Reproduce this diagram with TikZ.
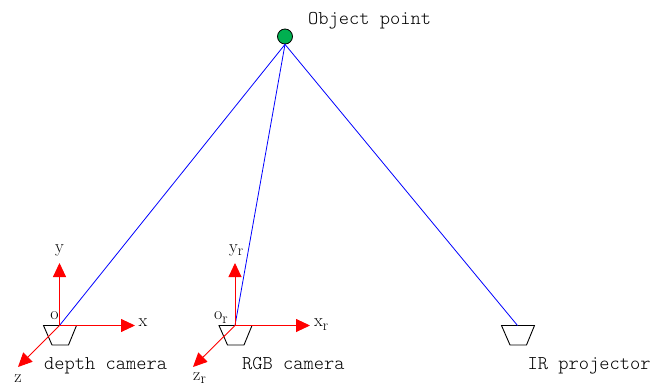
\documentclass[tikz,border=0pt]{standalone}
\usetikzlibrary{arrows.meta}
\newcommand{\rsubs}{\raisebox{-3.5pt}{\fontsize{15}{15}\selectfont r}}
\tikzset{
  px/.style={x=1pt,y=-1pt},
  ray/.style={blue,line width=0.8pt},
  axis/.style={red,line width=0.9pt,-{Triangle[length=14pt,width=13pt]}},
  cam/.style={black,line width=0.9pt},
  tag/.style={inner sep=0pt,font=\fontsize{19.5}{21}\selectfont\ttfamily\fontseries{l}\selectfont,anchor=base west},
  sym/.style={inner sep=0pt,font=\fontsize{18}{18}\selectfont,anchor=base},
  pics/camera/.style={code={\draw[cam] (-16,0) -- (17,0) -- (9,19.5) -- (-7.5,19.5) -- cycle;}}
}
\definecolor{objgreen}{RGB}{0,176,80}
\begin{document}
\begin{tikzpicture}[px]
\useasboundingbox (0,0) rectangle (651,385);
\coordinate (d) at (59.5,325.5);
\coordinate (r) at (235,325.5);
\coordinate (p) at (517.5,325.5);
\coordinate (dx) at (135,325.5);
\coordinate (dy) at (59.5,263);
\coordinate (dz) at (18,367);
\coordinate (rx) at (310,325.5);
\coordinate (ry) at (235,263);
\coordinate (rz) at (193,367);
\pic at (d) {camera};
\pic at (r) {camera};
\pic at (p) {camera};
\node[circle,draw=black,fill=objgreen,line width=0.8pt,minimum size=15pt,inner sep=0pt] (obj) at (285,36.5) {};
\draw[ray] (obj.south) -- (d);
\draw[ray] (obj.south) -- (r);
\draw[ray] (obj.south) -- (p);
\draw[axis] (d) -- (dx);
\draw[axis] (d) -- (dy);
\draw[axis] (d) -- (dz);
\draw[axis] (r) -- (rx);
\draw[axis] (r) -- (ry);
\draw[axis] (r) -- (rz);
\node[tag] (t0) at (308,25) {Object point};
\node[tag] (t1) at (44,369) {depth camera};
\node[tag] (t2) at (242,369) {RGB camera};
\node[tag] (t3) at (527.5,369) {IR projector};
\node[sym] (lx) at (143,326) {x};
\node[sym] (ly) at (59.5,252) {y};
\node[sym] (lz) at (18,382) {z};
\node[sym] (lo) at (54.5,319) {o};
\node[sym,anchor=base west] (lxr) at (314,326.5) {x\rsubs};
\node[sym,anchor=base west] (lyr) at (229,252) {y\rsubs};
\node[sym,anchor=base west] (lzr) at (193,380) {z\rsubs};
\node[sym,anchor=base west] (lor) at (214,319.5) {o\rsubs};
\end{tikzpicture}
\end{document}
